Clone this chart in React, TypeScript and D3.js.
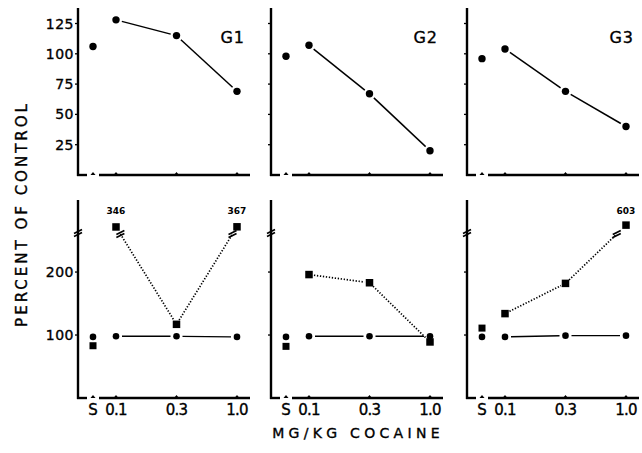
import React from "react";
import * as d3 from "d3";

const groups = ["G1", "G2", "G3"];
const doses = ["0.1", "0.3", "1.0"];
const salineLabel = "S";
const topTicks = [25, 50, 75, 100, 125];
const bottomTicks = [100, 200];
const topSaline = [106, 98, 96];
const topDose = [
  [128, 115, 69],
  [107, 67, 20],
  [104, 69, 40],
];
const botCircleSaline = [97, 97, 97];
const botCircleDose = [
  [98, 98, 97],
  [98, 98, 98],
  [97, 99, 99],
];
const botSquareSaline = [83, 82, 111];
const botSquareDose = [
  [346, 117, 367],
  [196, 183, 89],
  [134, 182, 603],
];
const breakValue = 262;

const W = 642;
const H = 453;
const axisXs = [78, 271, 467];
const FONT = "'DejaVu Sans', 'Liberation Sans', sans-serif";
const TS = { stroke: "#000", strokeWidth: 0.35 };

const topY = d3.scaleLinear().domain([0, 125]).range([175, 23.5]);
const botY = d3.scaleLinear().domain([0, breakValue, 340, 620]).range([398, 233, 227, 225]);

function shorten(x1: number, y1: number, x2: number, y2: number, g1: number, g2: number) {
  const dx = x2 - x1, dy = y2 - y1;
  const L = Math.hypot(dx, dy);
  if (L < g1 + g2 + 1) return null;
  return [x1 + (dx * g1) / L, y1 + (dy * g1) / L, x2 - (dx * g2) / L, y2 - (dy * g2) / L];
}

function BreakMark({ x, y }: { x: number; y: number }) {
  return (
    <g stroke="#000" strokeWidth={1.7}>
      <line x1={x - 4} y1={y + 0.5} x2={x + 4} y2={y - 3.5} />
      <line x1={x - 4} y1={y + 3.5} x2={x + 4} y2={y - 0.5} />
    </g>
  );
}

function Panel({ gi }: { gi: number }) {
  const ax = axisXs[gi];
  const xDose = d3.scalePoint<string>().domain(doses).range([ax + 38, ax + 159]);
  const xS = ax + 15;
  const axEnd = ax + 172;
  const els: React.ReactNode[] = [];

  // ---------- top panel ----------
  const tY0 = topY(0);
  els.push(<line key="tya" x1={ax} y1={8} x2={ax} y2={tY0 + 1} stroke="#000" strokeWidth={2.4} />);
  els.push(<line key="txa1" x1={ax - 1} y1={tY0} x2={ax + 9} y2={tY0} stroke="#000" strokeWidth={2.4} />);
  els.push(<line key="txa2" x1={ax + 21} y1={tY0} x2={axEnd} y2={tY0} stroke="#000" strokeWidth={2.4} />);
  topTicks.forEach((t) => {
    els.push(<line key={"tt" + t} x1={ax - 3} y1={topY(t)} x2={ax} y2={topY(t)} stroke="#000" strokeWidth={1.3} />);
    if (gi === 0)
      els.push(
        <text key={"tl" + t} x={ax - 4} y={topY(t)} textAnchor="end" dominantBaseline="central" fontSize={14} fontFamily={FONT} letterSpacing={0.5} {...TS}>
          {t}
        </text>
      );
  });
  [xS, ...doses.map((d) => xDose(d)!)].forEach((x, i) => {
    els.push(<path key={"txt" + i} d={`M${x - 2.5},${tY0} L${x},${tY0 - 3} L${x + 2.5},${tY0} Z`} fill="#000" />);
  });
  const tv = topDose[gi];
  for (let i = 0; i < doses.length - 1; i++) {
    const s = shorten(xDose(doses[i])!, topY(tv[i]), xDose(doses[i + 1])!, topY(tv[i + 1]), 6, 6);
    if (s) els.push(<line key={"tl-" + i} x1={s[0]} y1={s[1]} x2={s[2]} y2={s[3]} stroke="#000" strokeWidth={1.5} />);
  }
  els.push(<circle key="tcs" cx={xS} cy={topY(topSaline[gi])} r={3.7} fill="#000" />);
  tv.forEach((v, i) => els.push(<circle key={"tc" + i} cx={xDose(doses[i])!} cy={topY(v)} r={3.7} fill="#000" />));
  els.push(
    <text key="glab" x={axEnd - 5} y={43} textAnchor="end" fontSize={16} fontFamily={FONT} letterSpacing={1} {...TS}>
      {groups[gi]}
    </text>
  );

  // ---------- bottom panel ----------
  const bY0 = botY(0);
  els.push(<line key="bya" x1={ax} y1={200} x2={ax} y2={bY0 + 1} stroke="#000" strokeWidth={2.4} />);
  els.push(<line key="bxa1" x1={ax - 1} y1={bY0} x2={ax + 9} y2={bY0} stroke="#000" strokeWidth={2.4} />);
  els.push(<line key="bxa2" x1={ax + 21} y1={bY0} x2={axEnd} y2={bY0} stroke="#000" strokeWidth={2.4} />);
  els.push(<BreakMark key="ybrk" x={ax} y={botY(breakValue)} />);
  bottomTicks.forEach((t) => {
    els.push(<line key={"bt" + t} x1={ax - 3} y1={botY(t)} x2={ax} y2={botY(t)} stroke="#000" strokeWidth={1.3} />);
    if (gi === 0)
      els.push(
        <text key={"bl" + t} x={ax - 4} y={botY(t)} textAnchor="end" dominantBaseline="central" fontSize={14} fontFamily={FONT} letterSpacing={0.5} {...TS}>
          {t}
        </text>
      );
  });
  [xS, ...doses.map((d) => xDose(d)!)].forEach((x, i) => {
    els.push(<path key={"bxt" + i} d={`M${x - 2.5},${bY0} L${x},${bY0 - 3} L${x + 2.5},${bY0} Z`} fill="#000" />);
  });
  els.push(
    <text key="xls" x={xS} y={415} textAnchor="middle" fontSize={15} fontFamily={FONT} {...TS}>
      {salineLabel}
    </text>
  );
  doses.forEach((d) =>
    els.push(
      <text key={"xl" + d} x={xDose(d)!} y={415} textAnchor="middle" fontSize={15} fontFamily={FONT} letterSpacing={-0.8} {...TS}>
        {d}
      </text>
    )
  );
  const cv = botCircleDose[gi];
  for (let i = 0; i < doses.length - 1; i++) {
    const s = shorten(xDose(doses[i])!, botY(cv[i]), xDose(doses[i + 1])!, botY(cv[i + 1]), 6, 6);
    if (s) els.push(<line key={"bcl-" + i} x1={s[0]} y1={s[1]} x2={s[2]} y2={s[3]} stroke="#000" strokeWidth={1.4} />);
  }
  const sv = botSquareDose[gi];
  const breakY = botY(breakValue);
  for (let i = 0; i < doses.length - 1; i++) {
    let x1 = xDose(doses[i])!, y1 = botY(sv[i]);
    let x2 = xDose(doses[i + 1])!, y2 = botY(sv[i + 1]);
    let g1 = 5, g2 = 5;
    let mark: [number, number] | null = null;
    if (sv[i + 1] > breakValue && sv[i] <= breakValue) {
      const t = (y1 - (breakY + 1)) / (y1 - y2);
      x2 = x1 + (x2 - x1) * t;
      y2 = breakY + 1;
      g2 = 0;
      mark = [x2, y2];
    } else if (sv[i] > breakValue && sv[i + 1] <= breakValue) {
      const t = (y2 - (breakY + 1)) / (y2 - y1);
      x1 = x2 + (x1 - x2) * t;
      y1 = breakY + 1;
      g1 = 0;
      mark = [x1, y1];
    }
    const s = shorten(x1, y1, x2, y2, g1, g2);
    if (s)
      els.push(
        <line key={"bsl-" + i} x1={s[0]} y1={s[1]} x2={s[2]} y2={s[3]} stroke="#000" strokeWidth={1.7} strokeDasharray="1.3 1.7" />
      );
    if (mark) els.push(<BreakMark key={"lbrk" + i} x={mark[0]} y={mark[1]} />);
  }
  els.push(<circle key="bcs" cx={xS} cy={botY(botCircleSaline[gi])} r={3.3} fill="#000" />);
  cv.forEach((v, i) => els.push(<circle key={"bc" + i} cx={xDose(doses[i])!} cy={botY(v)} r={3.3} fill="#000" />));
  const sq = 7.5;
  els.push(<rect key="bss" x={xS - 3.5} y={botY(botSquareSaline[gi]) - 3.5} width={7} height={7} fill="#000" />);
  sv.forEach((v, i) => {
    const x = xDose(doses[i])!;
    els.push(<rect key={"bs" + i} x={x - sq / 2} y={botY(v) - sq / 2} width={sq} height={sq} fill="#000" />);
    if (v > breakValue)
      els.push(
        <text key={"ol" + i} x={x} y={214} textAnchor="middle" fontSize={9} fontWeight="bold" fontFamily={FONT}>
          {v}
        </text>
      );
  });

  return <g>{els}</g>;
}

export default function App() {
  return (
    <svg width={W} height={H} style={{ position: "absolute", left: 0, top: 0, background: "#fff" }}>
      <rect x={0} y={0} width={W} height={H} fill="#fff" />
      {groups.map((g, i) => (
        <Panel key={g} gi={i} />
      ))}
      <text x={22} y={214} transform="rotate(-90 22 214)" textAnchor="middle" dominantBaseline="central" fontSize={15} fontFamily={FONT} letterSpacing={3} {...TS}>
        PERCENT OF CONTROL
      </text>
      <text x={358} y={438} textAnchor="middle" fontSize={14} fontFamily={FONT} letterSpacing={4.3} {...TS}>
        MG/KG COCAINE
      </text>
    </svg>
  );
}
